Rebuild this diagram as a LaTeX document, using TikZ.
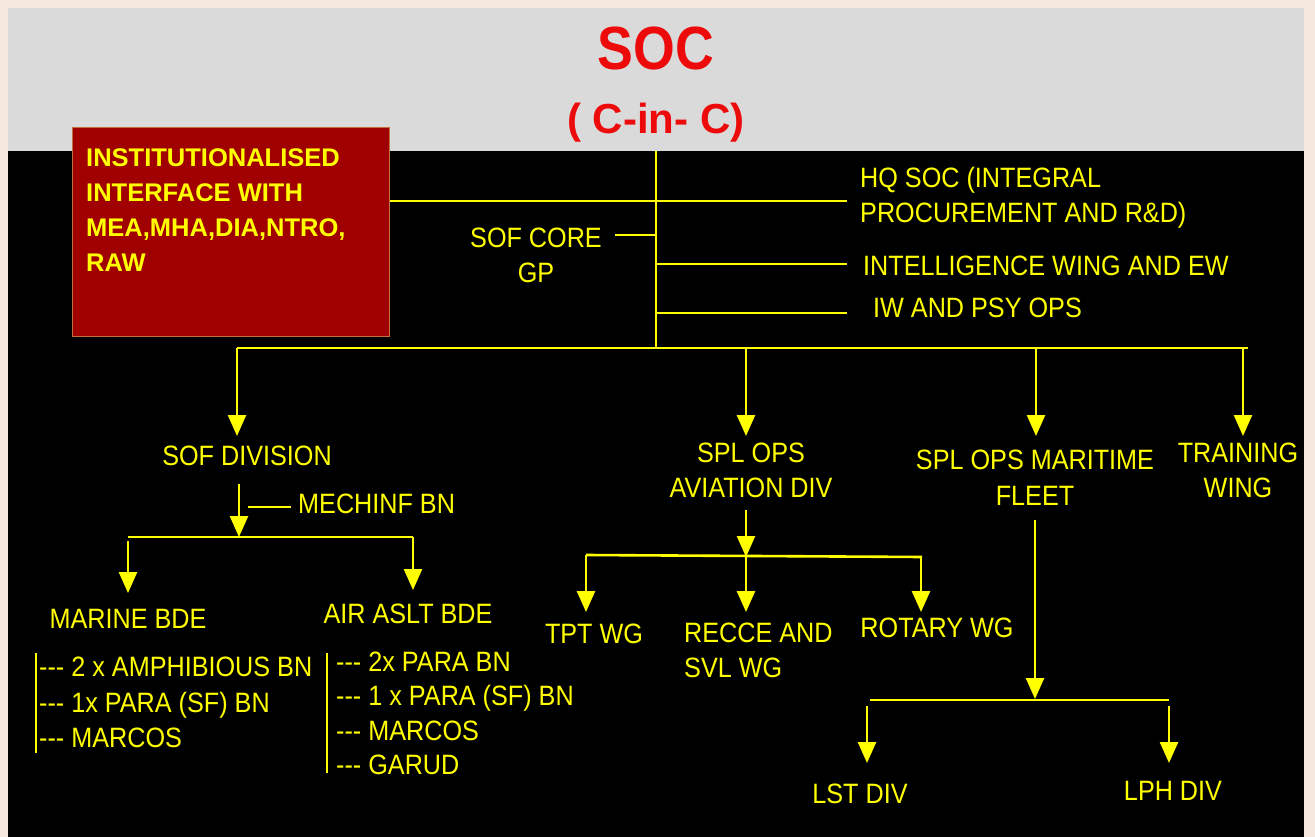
\documentclass[tikz,border=0pt]{standalone}
\usepackage{fontspec}
\setmainfont{Liberation Sans}
\newfontfamily\condf{Liberation Sans}[FakeStretch=0.9]
\newfontfamily\socf{Liberation Sans}[FakeStretch=0.88]
\usetikzlibrary{arrows.meta}
\definecolor{pinkbg}{HTML}{F6E7DF}
\definecolor{greybg}{HTML}{DADADA}
\definecolor{boxred}{HTML}{A00000}
\definecolor{boxedge}{HTML}{C0703A}
\definecolor{ylw}{HTML}{FFFF00}
\definecolor{titlered}{HTML}{EC0A0A}
\newcommand{\tdash}{-{}-{}-}
\begin{document}
\begin{tikzpicture}[x=1pt,y=-1pt,
  lbl/.style={text=ylw, font=\condf\fontsize{28}{35}\selectfont, inner sep=0pt, align=center},
  lnk/.style={draw=ylw, line width=2.6pt},
  arr/.style={lnk, -{Triangle[width=18pt,length=21pt]}}]
\fill[pinkbg] (0,0) rectangle (1315,837);
\useasboundingbox (0,0) rectangle (1315,837);
\fill[greybg] (8,8) rectangle (1304,151);
\fill[black] (8,151) rectangle (1304,837);

% title
\node[text=titlered, font=\socf\bfseries\fontsize{61}{70}\selectfont, inner sep=0pt, anchor=base] (soc) at (656,70) {SOC};
\node[text=titlered, font=\bfseries\fontsize{42}{50}\selectfont, inner sep=0pt, anchor=base] (cinc) at (656,134) {( C-in- C)};

% red box
\node[draw=boxedge, line width=1pt, fill=boxred, minimum width=317pt, minimum height=209pt, inner sep=0pt, anchor=north west] (box) at (72,127) {};
\node[text=ylw, font=\bfseries\fontsize{25.5}{35}\selectfont, inner sep=0pt, align=left, anchor=west] (boxtext) at (86,210.5)
  {INSTITUTIONALISED\\INTERFACE WITH\\MEA,MHA,DIA,NTRO,\\RAW};

% HQ level labels
\node[lbl, anchor=center] (core) at (536,255.5) {SOF CORE\\GP};
\node[lbl, align=left, anchor=west] (hq) at (860,198) {HQ SOC (INTEGRAL\\PROCUREMENT AND R\&D)};
\node[lbl, anchor=base west] (intel) at (863,276) {INTELLIGENCE WING AND EW};
\node[lbl, anchor=base west] (iw) at (873,317) {IW AND PSY OPS};

% coordinates
\coordinate (t0) at (656,151);
\coordinate (b0) at (656,348);
\coordinate (hqin) at (847,201);
\coordinate (coreout) at (615,235);
\coordinate (intelin) at (847,264);
\coordinate (iwin) at (847,313);
\coordinate (busL) at (237,348);
\coordinate (busR) at (1248,348);

\draw[lnk] (t0) -- (b0);
\draw[lnk] (box.east |- hqin) -- (hqin);
\draw[lnk] (coreout) -- (coreout -| t0);
\draw[lnk] (intelin -| t0) -- (intelin);
\draw[lnk] (iwin -| t0) -- (iwin);
\draw[lnk] (busL) -- (busR);

% second level labels
\node[lbl, anchor=base] (sofdiv) at (247,465) {SOF DIVISION};
\node[lbl, anchor=center] (avn) at (751,470) {SPL OPS\\AVIATION DIV};
\node[lbl, anchor=center, font=\condf\fontsize{28}{36}\selectfont] (mar) at (1035,478) {SPL OPS MARITIME\\FLEET};
\node[lbl, anchor=center] (trg) at (1238,470.5) {TRAINING\\WING};

\coordinate (a1) at (237,436);
\coordinate (a2) at (746,436);
\coordinate (a3) at (1036,436);
\coordinate (a4) at (1243,436);
\draw[arr] (busL) -- (a1);
\draw[arr] (a2 |- busL) -- (a2);
\draw[arr] (a3 |- busL) -- (a3);
\draw[arr] (a4 |- busL) -- (a4);

% SOF division branch
\node[lbl, anchor=base west] (mech) at (298,513) {MECHINF BN};
\coordinate (s0) at (239,484);
\coordinate (s1) at (239,537);
\draw[arr] (s0) -- (s1);
\draw[lnk] (248,507) -- (291,507);
\coordinate (bus2L) at (128,537);
\coordinate (bus2R) at (413,537);
\draw[lnk] (bus2L) -- (bus2R);
\node[lbl, anchor=base] (marine) at (128,628) {MARINE BDE};
\node[lbl, anchor=base] (air) at (408,623) {AIR ASLT BDE};
\draw[arr] (128,541) -- (128,593);
\draw[arr] (bus2R) -- (413,590);

\node[lbl, align=left, anchor=west, font=\condf\fontsize{28}{35.5}\selectfont] (marlist) at (39,702.5)
  {\tdash\ 2 x AMPHIBIOUS BN\\\tdash\ 1x PARA (SF) BN\\\tdash\ MARCOS};
\node[lbl, align=left, anchor=west, font=\condf\fontsize{28}{34.3}\selectfont] (airlist) at (336,713.5)
  {\tdash\ 2x PARA BN\\\tdash\ 1 x PARA (SF) BN\\\tdash\ MARCOS\\\tdash\ GARUD};
\draw[lnk] (36,653) -- (36,753);
\draw[lnk] (327,653) -- (327,773);

% aviation branch
\coordinate (v0) at (746,510);
\coordinate (v1) at (746,557);
\draw[arr] (v0) -- (v1);
\coordinate (bus3L) at (586,555);
\coordinate (bus3R) at (922,557);
\draw[lnk] (bus3L) -- (bus3R);
\node[lbl, anchor=base] (tpt) at (594,643) {TPT WG};
\node[lbl, align=left, anchor=west] (recce) at (684,650.5) {RECCE AND\\SVL WG};
\node[lbl, anchor=base] (rot) at (937,637) {ROTARY WG};
\draw[arr] (bus3L) -- (586,612);
\draw[arr] (v1) -- (746,612);
\draw[arr] (921,557) -- (921,612);

% maritime branch
\coordinate (m0) at (1035,520);
\coordinate (m1) at (1035,699);
\draw[arr] (m0) -- (m1);
\coordinate (bus4L) at (870,700);
\coordinate (bus4R) at (1169,700);
\draw[lnk] (bus4L) -- (bus4R);
\node[lbl, anchor=base] (lst) at (860,803) {LST DIV};
\node[lbl, anchor=base] (lph) at (1173,800) {LPH DIV};
\draw[arr] (867,706) -- (867,763);
\draw[arr] (1169,706) -- (1169,763);
\end{tikzpicture}
\end{document}
